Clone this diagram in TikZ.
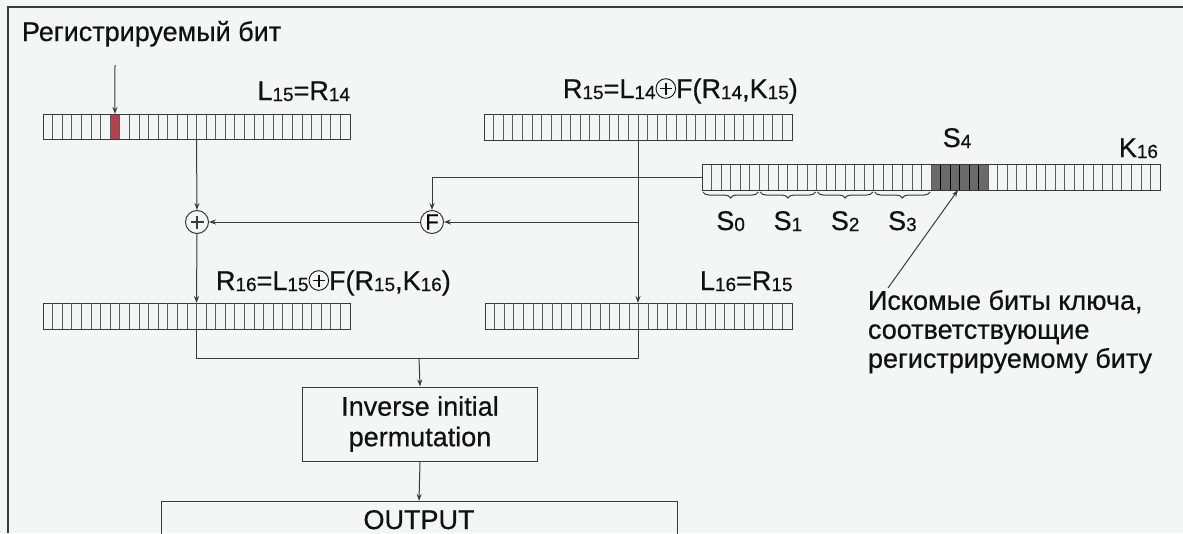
\documentclass[tikz,border=0pt]{standalone}
\usepackage{fontspec}
\setmainfont{Liberation Sans}[FakeBold=0.6]
\usetikzlibrary{arrows.meta,decorations.pathreplacing,calc}

\definecolor{bg}{HTML}{F4F6F5}
\definecolor{ln}{HTML}{3A3A3A}
\definecolor{cellln}{HTML}{5C5C5C}
\definecolor{hot}{HTML}{B8404C}
\definecolor{dk}{HTML}{6A6A6A}
\definecolor{txt}{HTML}{111111}

\newcommand{\sbx}[1]{{\fontsize{19}{19}\selectfont\raisebox{-1pt}{#1}}}
\newcommand{\xo}{\tikz[baseline=0pt,x=1pt,y=1pt]{\draw[line width=0.9pt] (0,9.5) circle (9.8); \draw[line width=1.6pt] (-6,9.5)--(6,9.5) (0,3.5)--(0,15.5);}}

\newcommand{\regcells}[2]{%
  \foreach \i in {1,...,\numexpr#2-1\relax}
    \draw[cellln, line width=0.8pt]
      ($(#1.north west)!{\i/#2}!(#1.north east)$) --
      ($(#1.south west)!{\i/#2}!(#1.south east)$);}

\tikzset{
  regbox/.style={draw=ln, line width=1pt, inner sep=0pt, outer sep=0pt, anchor=north west},
  arr/.style={draw=ln, line width=1pt, -{Stealth[length=7pt,width=5pt]}},
  con/.style={draw=ln, line width=1pt},
  opc/.style={circle, draw=ln, line width=1pt, minimum size=23pt, inner sep=0pt},
  box/.style={draw=ln, line width=1pt, inner sep=0pt, align=center, text=txt},
  brc/.style={draw=ln, line width=1pt, decorate, decoration={brace, mirror, amplitude=6pt}},
  lbl/.style={inner sep=0pt, outer sep=0pt, text=txt},
}

\begin{document}
\begin{tikzpicture}[x=1pt,y=-1pt, font=\fontsize{27}{30}\selectfont]
\fill[bg] (0,0) rectangle (1183,533);
\useasboundingbox (0,0) rectangle (1183,533);
\draw[ln, line width=2pt] (8,533) -- (8,7) -- (1183,7);

% registers
\node[regbox, minimum width=307pt, minimum height=25pt] (L15) at (43,114) {};
\node[regbox, minimum width=308pt, minimum height=26pt] (R15) at (484,114) {};
\node[regbox, minimum width=458pt, minimum height=26pt] (K16) at (702,164) {};
\node[regbox, minimum width=307pt, minimum height=26pt] (R16) at (43,303) {};
\node[regbox, minimum width=307pt, minimum height=26pt] (L16) at (485,303) {};

% highlighted cells
\fill[hot] ($(L15.north west)!{7/32}!(L15.north east)$) rectangle ($(L15.south west)!{8/32}!(L15.south east)$);
\fill[dk] ($(K16.north west)!{24/48}!(K16.north east)$) rectangle ($(K16.south west)!{30/48}!(K16.south east)$);

\regcells{L15}{32}
\regcells{R15}{32}
\regcells{K16}{48}
\regcells{R16}{32}
\regcells{L16}{32}
\foreach \i in {25,...,29}
  \draw[black, line width=0.8pt] ($(K16.north west)!{\i/48}!(K16.north east)$) -- ($(K16.south west)!{\i/48}!(K16.south east)$);
\draw[ln, line width=1pt] (L15.north west) rectangle (L15.south east);
\draw[ln, line width=1pt] (K16.north west) rectangle (K16.south east);

% labels
\node[lbl, anchor=base west] (title) at (22,41) {Регистрируемый бит};
\node[lbl, anchor=base east] (lL15) at (350,100) {L\sbx{15}=R\sbx{14}};
\node[lbl, anchor=base west] (lR15) at (563,98) {R\sbx{15}=L\sbx{14}\xo F(R\sbx{14},K\sbx{15})};
\node[lbl, anchor=base west] (lR16) at (216,290) {R\sbx{16}=L\sbx{15}\xo F(R\sbx{15},K\sbx{16})};
\node[lbl, anchor=base west] (lL16) at (700,290) {L\sbx{16}=R\sbx{15}};
\node[lbl, anchor=base] (lS4) at (957,147) {S\sbx{4}};
\node[lbl, anchor=base east] (lK16) at (1158,157) {K\sbx{16}};

% braces and S labels
\foreach \k in {0,1,2,3}{
  \draw[brc] ($(K16.south west)!{(6*\k+0.1)/48}!(K16.south east)+(0,2)$) -- ($(K16.south west)!{(6*\k+5.9)/48}!(K16.south east)+(0,2)$);
  \node[lbl, anchor=base] (S\k) at ($(K16.south west)!{(6*\k+3)/48}!(K16.south east)+(0,40)$) {S\sbx{\k}};
}

% operators
\node[opc] (xo) at (197,222) {};
\draw[line width=1.6pt, ln] ($(xo)+(-6.5,0)$) -- ($(xo)+(6.5,0)$) ($(xo)+(0,-6.5)$) -- ($(xo)+(0,6.5)$);
\node[opc, font=\fontsize{22}{22}\selectfont] (F) at (432,222) {F};

% boxes
\node[box, minimum width=235pt, minimum height=74pt, font=\fontsize{27}{30.5}\selectfont] (inv) at (420,424) {Inverse initial\\permutation};
\node[box, minimum width=516pt, minimum height=60pt, anchor=north] (out) at (419,501) {};
\node[lbl, anchor=base] (outt) at (419,529) {OUTPUT};

% annotation
\node[lbl, anchor=north west, align=left, font=\fontsize{27}{29}\selectfont] (ann) at (868,290) {Искомые биты ключа,\\соответствующие\\регистрируемому биту};

% coordinates
\coordinate (jF) at (R15.south |- F);
\coordinate (mc) at (419,358);
\coordinate (t0) at (115,65);
\coordinate (hb) at ($(L15.north west)!{7.5/32}!(L15.north east)$);
\coordinate (a0) at (888,288);
\coordinate (s4t) at (958,190);

% connectors
\draw[arr] (t0) -- (hb);
\draw[arr] (L15.south) -- (xo.north);
\draw[arr] (R15.south) -- (R15.south |- L16.north);
\draw[arr] (jF) -- (F.east);
\draw[arr] (F.west) -- (xo.east);
\draw[arr] (K16.west) -| (F.north);
\draw[arr] (xo.south) -- (R16.north);
\draw[con] (R16.south) -- (R16.south |- mc) -- (R15.south |- mc) -- (R15.south |- L16.south);
\draw[arr] (mc) -- (inv.north);
\draw[arr] (inv.south) -- (out.north);
\draw[arr] (a0) -- (s4t);
\end{tikzpicture}
\end{document}
